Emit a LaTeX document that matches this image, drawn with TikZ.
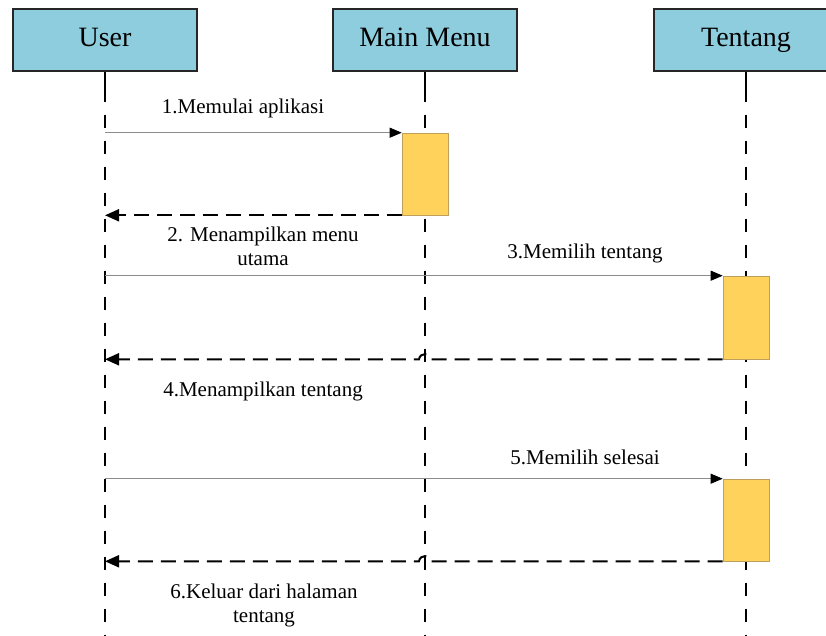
\documentclass[tikz,border=0pt]{standalone}
\usepackage{fontspec}
\setmainfont{Liberation Serif}
\usetikzlibrary{arrows.meta,calc}
\definecolor{headfill}{RGB}{142,205,221}
\definecolor{actfill}{RGB}{255,210,92}
\definecolor{actline}{RGB}{190,160,90}
\begin{document}
\begin{tikzpicture}[x=1pt,y=-1pt,
  head/.style={draw=black!85,line width=1.4pt,fill=headfill,minimum width=184pt,minimum height=62pt,inner sep=0pt,text height=19pt,text depth=6pt,font=\fontsize{28}{30}\selectfont},
  act/.style={draw=actline,line width=0.6pt,fill=actfill,minimum width=46pt,inner sep=0pt},
  lifesolid/.style={line width=1.6pt,black},
  lifedash/.style={line width=1.6pt,black,dash pattern=on 13pt off 13pt},
  msg/.style={line width=0.8pt,black!45,-{Triangle[length=12pt,width=10pt,black]}},
  ret/.style={line width=2pt,black,dash pattern=on 15pt off 8pt,-{Triangle[length=14pt,width=12pt]}},
  lbl/.style={font=\fontsize{21}{24}\selectfont,align=center,inner sep=0pt}]
  \useasboundingbox (0,0) rectangle (826,636);
  \clip (0,0) rectangle (826,636);

  % participants
  \node[head] (user) at (105,40) {User};
  \node[head] (mm)   at (425,40) {Main Menu};
  \node[head] (ten)  at (746,40) {Tentang};

  % lifelines
  \foreach \p in {user,mm,ten}{
    \coordinate (\p-b) at ($(\p.south)+(0,17)$);
    \coordinate (\p-e) at ($(\p.south)+(0,580)$);
    \draw[lifesolid] (\p.south) -- (\p-b);
    \draw[lifedash] (\p-b) -- (\p-e);
  }

  % activation bars
  \node[act,minimum height=82pt] (a1) at (425,174) {};
  \node[act,minimum height=83pt] (a2) at (746,317.5) {};
  \node[act,minimum height=82pt] (a3) at (746,520) {};

  % 1 / 2
  \draw[msg] (user.south |- a1.north west) -- (a1.north west);
  \node[lbl] (l1) at (243,108) {1.Memulai aplikasi};
  \draw[ret] (a1.south west) -- (user.south |- a1.south west);
  \node[lbl] (l2) at (263,246) {2. Menampilkan menu\\utama};

  % 3 / 4
  \draw[msg] (user.south |- a2.north west) -- (a2.north west);
  \node[lbl] (l3) at (585,253) {3.Memilih tentang};
  \coordinate (h2r) at ($(mm.south |- a2.south west)+(6,0)$);
  \coordinate (h2l) at ($(mm.south |- a2.south west)+(-6,0)$);
  \draw[ret] (a2.south west) -- (h2r) .. controls ($(h2r)+(-1,-7)$) and ($(h2l)+(1,-7)$) .. (h2l) -- (user.south |- a2.south west);
  \node[lbl] (l4) at (263,391) {4.Menampilkan tentang};

  % 5 / 6
  \draw[msg] (user.south |- a3.north west) -- (a3.north west);
  \node[lbl] (l5) at (585,457) {5.Memilih selesai};
  \coordinate (h3r) at ($(mm.south |- a3.south west)+(6,0)$);
  \coordinate (h3l) at ($(mm.south |- a3.south west)+(-6,0)$);
  \draw[ret] (a3.south west) -- (h3r) .. controls ($(h3r)+(-1,-7)$) and ($(h3l)+(1,-7)$) .. (h3l) -- (user.south |- a3.south west);
  \node[lbl] (l6) at (264,605) {6.Keluar dari halaman\\tentang};
\end{tikzpicture}
\end{document}
